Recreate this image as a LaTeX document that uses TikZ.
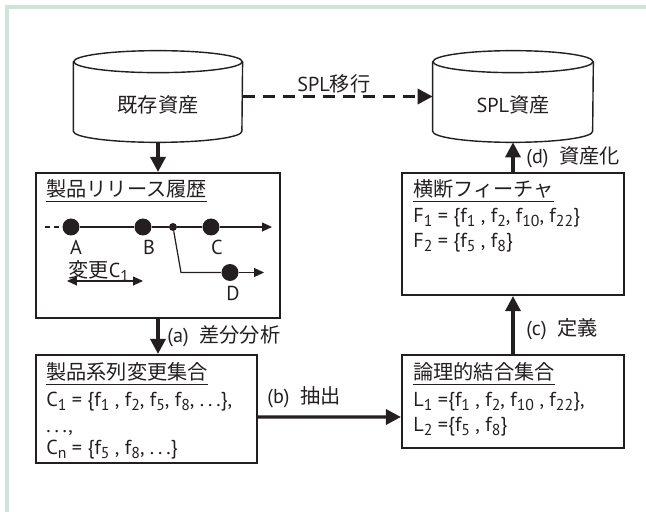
\documentclass[tikz,border=0pt]{standalone}
\usepackage{fontspec}
\setmainfont{PT Sans}
\newfontfamily\jpfont{Noto Sans CJK JP}
\usetikzlibrary{arrows.meta}
\definecolor{framegreen}{RGB}{208,228,214}
\definecolor{inkblack}{RGB}{35,31,32}
\newcommand{\ja}[1]{{\jpfont #1}}
\newcommand{\fs}[2]{#1\raisebox{-.32ex}{\fontsize{9}{9}\selectfont #2}}
\newcommand{\lds}{.\kern2.2pt.\kern2.2pt.}
\newcommand{\dbshape}[2]{
  \draw[dbline] ([yshift=-.22cm]#1.north) ellipse [x radius=#2,y radius=.22];
  \draw[dbline] ([yshift=-.22cm]#1.north west) -- ([yshift=.22cm]#1.south west)
    arc [start angle=180,end angle=360,x radius=#2,y radius=.22] -- ([yshift=-.22cm]#1.north east);
}
\tikzset{
  lbl/.style={inner sep=0pt,anchor=base west,text=inkblack,font=\fontsize{11.5}{13}\selectfont},
  dbbox/.style={inner sep=0pt,minimum height=1.82cm},
  dbline/.style={draw=inkblack,line width=.8pt},
  setbox/.style={draw=inkblack,line width=1.2pt,inner sep=0pt},
  bigdot/.style={circle,fill=inkblack,inner sep=0pt,minimum size=.34cm},
  smalldot/.style={circle,fill=inkblack,inner sep=0pt,minimum size=.16cm},
  flow/.style={draw=inkblack,line width=1.9pt,-{Triangle[length=.3cm,width=.3cm]}},
  thin line/.style={draw=inkblack,line width=.7pt},
  thin arrow/.style={thin line,-{Triangle[length=.2cm,width=.18cm]}}
}
\begin{document}
\begin{tikzpicture}
\useasboundingbox (0,0) rectangle (12.92,10.24);
\fill[framegreen] (.1,0) -- (.1,10.14) -- (12.92,10.14) -- (12.92,10.06) -- (.18,10.06) -- (.18,0) -- cycle;

\node[dbbox,minimum width=3.37cm] (oldassets) at (3.16,8.31) {};
\node[dbbox,minimum width=3.2cm] (splassets) at (10.26,8.31) {};
\dbshape{oldassets}{1.685}
\dbshape{splassets}{1.6}
\node[lbl,anchor=base] (oldname) at (3.16,7.98) {\ja{既存資産}};
\node[lbl,anchor=base] (splname) at (10.26,7.98) {SPL\ja{資産}};

\node[setbox,minimum width=4.88cm,minimum height=2.9cm] (history) at (3.16,5.33) {};
\node[setbox,minimum width=4.42cm,minimum height=2.16cm] (changes) at (2.93,2.06) {};
\node[setbox,minimum width=4.44cm,minimum height=1.86cm] (logical) at (10.26,2.21) {};
\node[setbox,minimum width=4.44cm,minimum height=2.44cm] (features) at (10.26,5.56) {};

% release history
\node[lbl] (histtitle) at (.92,6.3) {\underline{\ja{製品リリース履歴}}};
\coordinate (tlstart) at (.9,5.7);
\node[bigdot] (ptA) at (1.42,5.7) {};
\node[bigdot] (ptB) at (2.86,5.7) {};
\node[smalldot] (ptJ) at (3.46,5.7) {};
\node[bigdot] (ptC) at (4.22,5.7) {};
\coordinate (tlend) at (5.44,5.7);
\coordinate (bend) at (3.62,4.79);
\node[bigdot] (ptD) at (4.6,4.79) {};
\coordinate (brend) at (5.28,4.79);

\draw[thin line,densely dashed] (tlstart) -- (ptA);
\draw[thin line] (ptA) -- (ptB) -- (ptJ) -- (ptC);
\draw[thin arrow] (ptC) -- (tlend);
\draw[thin line] (ptJ) -- (bend) -- (ptD);
\draw[thin arrow] (ptD) -- (brend);

\node[lbl,anchor=base] (nameA) at (1.52,5.14) {A};
\node[lbl,anchor=base] (nameB) at (2.98,5.14) {B};
\node[lbl,anchor=base] (nameC) at (4.34,5.14) {C};
\node[lbl,anchor=base] (nameD) at (4.66,4.22) {D};

\node[lbl] (chglabel) at (1.36,4.68) {\ja{変更}\fs{C}{1}};
\coordinate (chgl) at (1.34,4.62);
\coordinate (chgr) at (2.86,4.62);
\draw[thin line,{Triangle[length=.2cm,width=.18cm]}-{Triangle[length=.2cm,width=.18cm]}] (chgl) -- (chgr);

% change sets
\node[lbl] (chgtitle) at (.92,2.64) {\underline{\ja{製品系列変更集合}}};
\node[lbl] (chgone) at (.92,2.1) {\fs{C}{1} = \{\fs{f}{1} , \fs{f}{2}, \fs{f}{5}, \fs{f}{8}, \lds\},};
\node[lbl] (chgdots) at (.92,1.58) {\lds,};
\node[lbl] (chgn) at (.92,1.14) {\fs{C}{n} = \{\fs{f}{5} , \fs{f}{8}, \lds\}};

\node[lbl] (logtitle) at (8.26,2.64) {\underline{\ja{論理的結合集合}}};
\node[lbl] (logone) at (8.26,2.1) {\fs{L}{1} =\{\fs{f}{1} , \fs{f}{2}, \fs{f}{10} , \fs{f}{22}\},};
\node[lbl] (logtwo) at (8.26,1.6) {\fs{L}{2} =\{\fs{f}{5} , \fs{f}{8}\}};

\node[lbl] (feattitle) at (8.26,6.3) {\underline{\ja{横断フィーチャ}}};
\node[lbl] (featone) at (8.26,5.78) {\fs{F}{1} = \{\fs{f}{1} , \fs{f}{2}, \fs{f}{10}, \fs{f}{22}\}};
\node[lbl] (feattwo) at (8.26,5.28) {\fs{F}{2} = \{\fs{f}{5} , \fs{f}{8}\}};

% connectors
\draw[flow,dash pattern=on 12*.02cm off 8*.02cm] (oldassets.east) -- (splassets.west);
\draw[flow] (oldassets.south) -- (history.north);
\draw[flow] (history.south) -- (history.south |- changes.north);
\draw[flow] ([yshift=-.16cm]changes.east) -- ([yshift=-.31cm]logical.west);
\draw[flow] (logical.north) -- (features.south);
\draw[flow] (features.north) -- (splassets.south);

\node[lbl] (migrate) at (5.94,8.4) {SPL\ja{移行}};
\node[lbl] (stepa) at (3.34,3.38) {(a)\ \ \ja{差分分析}};
\node[lbl] (stepb) at (5.34,2.16) {(b)\ \ \ja{抽出}};
\node[lbl] (stepc) at (10.52,3.52) {(c)\ \ \ja{定義}};
\node[lbl] (stepd) at (10.52,6.96) {(d)\ \ \ja{資産化}};
\end{tikzpicture}
\end{document}
